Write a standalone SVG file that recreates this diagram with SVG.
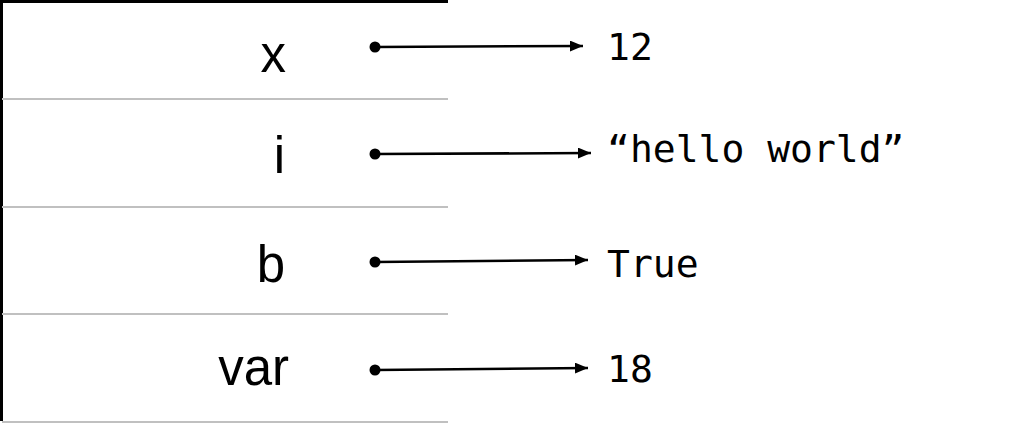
<svg xmlns="http://www.w3.org/2000/svg" width="1031" height="425" viewBox="0 0 1031 425">
<style>
.name{font-family:"Liberation Sans",Arial,sans-serif;font-size:51px;fill:#000;text-anchor:end}
.val{font-family:"DejaVu Sans Mono","Liberation Mono",monospace;font-size:38px;fill:#000}
.sep{stroke:#c0c0c0;stroke-width:2}
.conn{stroke:#000;stroke-width:2.5;fill:none;marker-end:url(#arr)}
.dot{fill:#000}
</style>
<defs>
<marker id="arr" markerWidth="13" markerHeight="11" refX="13" refY="5.5" orient="auto" markerUnits="userSpaceOnUse">
<path d="M0,0 L13,5.5 L0,11 Z" fill="#000"/>
</marker>
</defs>
<rect width="1031" height="425" fill="#fff"/>
<g id="frame">
<rect x="0" y="0" width="448" height="3" fill="#000"/>
<rect x="0" y="0" width="3" height="421" fill="#000"/>
<line class="sep" x1="2" y1="99" x2="448" y2="99"/>
<line class="sep" x1="2" y1="207" x2="448" y2="207"/>
<line class="sep" x1="2" y1="314" x2="448" y2="314"/>
<line class="sep" x1="2" y1="422" x2="448" y2="422"/>
</g>
<g id="row-x">
<text class="name" x="286" y="72">x</text>
<circle class="dot" cx="375" cy="47" r="5.5"/>
</g>
<g id="row-i">
<text class="name" x="285" y="173">i</text>
<circle class="dot" cx="375" cy="154" r="5.5"/>
</g>
<g id="row-b">
<text class="name" x="285" y="282">b</text>
<circle class="dot" cx="375" cy="262" r="5.5"/>
</g>
<g id="row-var">
<text class="name" x="289" y="385">var</text>
<circle class="dot" cx="375" cy="370" r="5.5"/>
</g>
<g id="val-12"><text class="val" x="607" y="60">12</text></g>
<g id="val-hello"><text class="val" x="607" y="162">“hello world”</text></g>
<g id="val-true"><text class="val" x="607" y="277">True</text></g>
<g id="val-18"><text class="val" x="607" y="382">18</text></g>
<g id="connectors">
<line class="conn" x1="375" y1="47" x2="583" y2="46"/>
<line class="conn" x1="375" y1="154" x2="591" y2="153"/>
<line class="conn" x1="375" y1="262" x2="588" y2="260"/>
<line class="conn" x1="375" y1="370" x2="588" y2="368"/>
</g>
</svg>
